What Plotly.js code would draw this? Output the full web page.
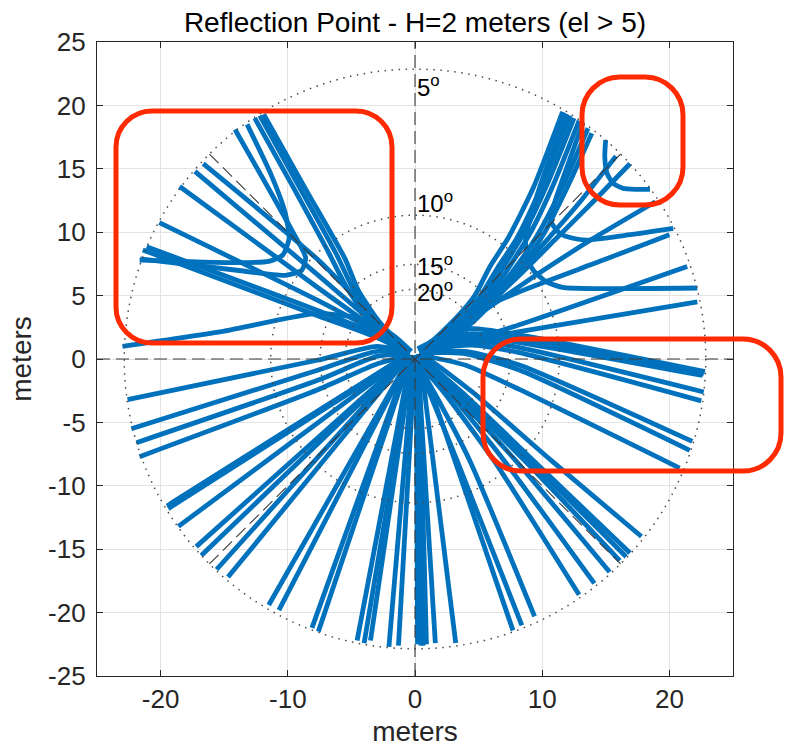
<!DOCTYPE html>
<html>
<head>
<meta charset="utf-8">
<script src="https://cdn.plot.ly/plotly-3.0.1.min.js"></script>
<style>
  html, body { margin: 0; padding: 0; background: #ffffff; }
  #chart { width: 789px; height: 747px; }
</style>
</head>
<body>
<div id="chart"></div>
<script>
// Antenna height above the reflecting surface (m) and the elevation rings drawn
const antennaHeight = 2;
const elevationRings = [5, 10, 15, 20];
const ringLabelY = [21.5, 12.4, 7.4, 5.4];

const xTicks = [-20, -10, 0, 10, 20];
const yTicks = [-25, -20, -15, -10, -5, 0, 5, 10, 15, 20, 25];

// Reflection-point tracks, [x, y] in meters (east, north), one polyline per pass segment
const tracksNE = [
  [[11.6, 19.5], [9.3, 13.5], [7.3, 9.5], [5.9, 7.3], [4.7, 5.0], [3.2, 3.2], [1.3, 1.4], [0.2, 0.8]],
  [[12.2, 19.2], [9.9, 13.5], [8.0, 9.5], [6.5, 7.2], [5.1, 4.9], [3.5, 3.0], [1.5, 1.2], [0.3, 0.6]],
  [[12.5, 19.0], [10.4, 13.8], [8.6, 10.0], [7.1, 7.5], [5.5, 5.0], [3.8, 2.9], [1.7, 1.1], [0.4, 0.5]],
  [[12.9, 18.8], [10.9, 13.8], [9.1, 10.0], [7.5, 7.4], [5.8, 4.9], [3.9, 2.8], [1.8, 1.0], [0.4, 0.4]],
  [[13.6, 18.2], [11.6, 13.6], [9.7, 9.9], [7.9, 7.2], [6.0, 4.8], [4.0, 2.7], [1.8, 0.9], [0.5, 0.4]],
  [[13.9, 17.8], [12.0, 13.6], [10.2, 10.0], [8.4, 7.3], [6.3, 4.7], [4.2, 2.6], [1.9, 0.9], [0.5, 0.3]],
  [[15.8, 16.0], [12.9, 12.3], [10.3, 9.3], [7.6, 6.3], [5.0, 3.8], [2.8, 2.0], [0.9, 0.6]],
  [[16.9, 15.4], [13.9, 12.3], [11.0, 9.4], [8.2, 6.6], [5.4, 4.0], [3.0, 2.0], [1.0, 0.5]],
  [[18.9, 12.4], [14.0, 9.5], [9.5, 6.6], [6.0, 4.2], [3.0, 2.2], [1.0, 0.8]],
  [[20.0, 9.8], [14.8, 7.8], [8.2, 5.3], [4.5, 3.6], [2.2, 2.0], [0.8, 0.8]],
  [[21.4, 7.3], [8.2, 2.7], [2.5, 0.9], [0.8, 0.3]],
  [[22.2, 4.5], [8.2, 2.15], [2.0, 1.0], [0.5, 0.5]]
];

const hooksNE = [
  [[14.99, 17.27], [14.92, 15.95], [15.10, 14.64], [15.57, 13.86], [16.36, 13.46], [17.42, 13.38], [18.47, 13.38]],
  [[13.2, 18.6], [11.9, 15.0], [11.0, 12.4], [10.71, 10.83], [11.37, 9.91], [12.42, 9.52], [13.47, 9.38], [16.9, 9.8], [20.3, 10.3]],
  [[11.9, 19.35], [10.3, 15.0], [9.2, 11.6], [8.7, 9.4], [8.8, 8.0], [9.3, 7.0], [10.3, 6.1], [11.6, 5.65], [14.5, 5.55], [22.2, 5.6]]
];

const tracksE = [
  [[22.8, -1.0], [8.2, 1.9], [4.5, 2.4], [2.2, 1.8], [0.6, 0.7]],
  [[22.7, -1.2], [8.2, 1.6], [4.5, 2.0], [2.2, 1.5], [0.6, 0.6]],
  [[22.6, -1.3], [8.2, 1.3], [4.5, 1.7], [2.2, 1.3], [0.6, 0.5]],
  [[22.7, -2.6], [8.2, 0.9], [4.5, 1.4], [2.0, 1.1], [0.5, 0.4]],
  [[22.5, -3.3], [8.2, 0.5], [4.5, 1.1], [2.0, 0.9], [0.5, 0.3]],
  [[21.8, -6.5], [8.2, -0.47], [4.0, 0.6], [1.5, 0.6], [0.4, 0.3]],
  [[21.6, -7.2], [8.2, -0.87], [4.0, 0.4], [1.5, 0.5], [0.4, 0.3]],
  [[20.8, -8.6], [8.2, -2.4], [4.0, -0.5], [1.5, 0.1], [0.3, 0.3]]
];

const tracksSE = [
  [[17.8, -14.0], [10.7, -8.0], [4.5, -2.6], [1.2, -0.1], [0.3, 0.4]],
  [[16.9, -15.3], [9.3, -8.0], [4.0, -2.9], [1.0, -0.3], [0.3, 0.3]],
  [[16.6, -15.6], [9.0, -8.0], [3.8, -3.0], [0.9, -0.4], [0.2, 0.3]],
  [[16.1, -15.9], [8.6, -8.0], [3.6, -3.0], [0.8, -0.4], [0.2, 0.3]],
  [[15.3, -16.8], [7.9, -8.0], [3.2, -2.9], [0.7, -0.5], [0.1, 0.3]],
  [[14.1, -17.7], [7.0, -8.0], [2.8, -2.8], [0.6, -0.5], [0.1, 0.3]],
  [[12.9, -18.6], [6.2, -8.0], [2.4, -2.8], [0.5, -0.5], [0.0, 0.3]],
  [[9.4, -20.3], [4.3, -8.0], [1.6, -2.8], [0.3, -0.5], [0.0, 0.3]],
  [[8.4, -21.0], [3.3, -8.0], [1.2, -2.8], [0.3, -0.5], [0.0, 0.3]]
];

const tracksS = [
  [[7.7, -21.4], [0.3, 0.3]],
  [[3.2, -22.4], [0.4, 0.2]],
  [[1.6, -22.4], [0.2, 0.3]],
  [[0.9, -22.5], [0.3, 0.2]],
  [[0.65, -22.6], [0.1, 0.3]],
  [[0.45, -22.6], [0.3, 0.2]],
  [[0.2, -22.5], [0.1, 0.3]],
  [[-1.3, -22.6], [0.0, 0.3]],
  [[-2.05, -22.7], [-0.1, 0.3]],
  [[-3.5, -22.2], [-0.2, 0.3]],
  [[-4.0, -22.4], [-0.2, 0.2]],
  [[-4.55, -22.2], [-0.3, 0.3]],
  [[-7.6, -21.5], [-0.3, 0.3]],
  [[-8.1, -21.2], [-0.4, 0.3]]
];

const tracksSW = [
  [[-10.7, -19.8], [-0.3, 0.3]],
  [[-11.5, -19.4], [-0.3, 0.3]],
  [[-14.7, -17.2], [-0.4, 0.3]],
  [[-15.6, -16.6], [-0.4, 0.3]],
  [[-16.8, -15.5], [-0.4, 0.3]],
  [[-17.2, -14.8], [-0.4, 0.3]],
  [[-18.6, -13.2], [-0.5, 0.3]],
  [[-19.4, -11.8], [-0.5, 0.3]],
  [[-19.5, -11.6], [-0.5, 0.4]],
  [[-19.2, -11.4], [-0.5, 0.4]]
];

const tracksW = [
  [[-23.0, 1.0], [-15.0, 2.2], [-7.6, 3.6], [-3.5, 3.0], [-1.5, 1.7], [-0.3, 0.6]],
  [[-22.6, -3.2], [-7.6, -0.08], [-3.0, 1.0], [-0.4, 0.5]],
  [[-22.3, -5.5], [-7.6, -0.87], [-3.0, 0.6], [-0.4, 0.4]],
  [[-21.9, -6.6], [-7.6, -1.66], [-3.0, 0.2], [-0.4, 0.4]],
  [[-21.65, -7.7], [-7.6, -2.4], [-3.0, -0.4], [-0.4, 0.3]]
];

const tracksNW = [
  [[-21.1, 8.85], [-7.6, 3.8], [-3.0, 1.9], [-0.6, 0.6]],
  [[-21.4, 8.6], [-7.6, 3.4], [-3.0, 1.7], [-0.6, 0.5]],
  [[-20.1, 10.75], [-7.6, 4.6], [-3.0, 2.1], [-0.6, 0.6]],
  [[-18.5, 13.6], [-7.6, 5.6], [-3.0, 2.3], [-0.6, 0.6]],
  [[-17.3, 14.8], [-7.6, 6.6], [-3.0, 2.6], [-0.6, 0.6]],
  [[-16.65, 15.4], [-7.6, 7.8], [-3.5, 3.6], [-0.8, 0.8]],
  [[-11.9, 19.3], [-8.6, 13.4], [-5.5, 7.9], [-4.5, 5.5], [-3.16, 3.4], [-1.84, 1.84], [-0.3, 0.6]],
  [[-12.2, 19.2], [-9.0, 13.4], [-6.2, 8.3], [-4.9, 5.6], [-3.5, 3.4], [-2.0, 1.7], [-0.4, 0.5]],
  [[-12.6, 19.0], [-9.6, 13.6], [-6.9, 8.6], [-5.4, 5.7], [-3.8, 3.3], [-2.1, 1.6], [-0.5, 0.5]]
];

const hooksNW = [
  [[-13.2, 18.5], [-11.3, 14.5], [-10.2, 11.5], [-9.9, 9.5], [-10.4, 8.2], [-11.5, 7.7], [-14.0, 7.6], [-21.65, 7.8]],
  [[-14.15, 18.1], [-11.6, 13.6], [-9.6, 10.0], [-8.6, 8.0], [-8.9, 7.0], [-10.2, 6.6], [-14.0, 7.0], [-21.6, 7.9]]
];

// ---- build the track trace (gaps separate the passes) ----
const allTracks = [].concat(tracksNE, hooksNE, tracksE, tracksSE, tracksS, tracksSW, tracksW, tracksNW, hooksNW);
const trackX = [], trackY = [];
allTracks.forEach(function (t) {
  t.forEach(function (p) { trackX.push(p[0]); trackY.push(p[1]); });
  trackX.push(null); trackY.push(null);
});

const FONT = 'Liberation Sans, Arial, Helvetica, sans-serif';
const AXIS_COLOR = '#262626';
const TRACK_BLUE = '#0072bd';

const traces = [{
  type: 'scatter',
  mode: 'lines',
  x: trackX,
  y: trackY,
  connectgaps: false,
  line: { color: TRACK_BLUE, width: 4.8, shape: 'spline', smoothing: 0.6 },
  hoverinfo: 'skip',
  showlegend: false
}];

// ---- reference geometry: elevation rings and azimuth guide lines ----
const shapes = [];
elevationRings.forEach(function (el) {
  const r = antennaHeight / Math.tan(el * Math.PI / 180);
  shapes.push({
    type: 'circle', xref: 'x', yref: 'y', layer: 'above',
    x0: -r, x1: r, y0: -r, y1: r,
    line: { color: '#4a4a4a', width: 1.5, dash: '1.5px,5.5px' }
  });
});
const outerR = antennaHeight / Math.tan(elevationRings[0] * Math.PI / 180);
const diag = outerR / Math.SQRT2;
const guideDash = { color: '#3a3a3a', width: 1.1, dash: '13px,6px' };
shapes.push({ type: 'line', xref: 'x', yref: 'y', layer: 'above', x0: 0, x1: 0, y0: -25, y1: 25, line: guideDash });
shapes.push({ type: 'line', xref: 'x', yref: 'y', layer: 'above', x0: -25, x1: 25, y0: 0, y1: 0, line: guideDash });
shapes.push({ type: 'line', xref: 'x', yref: 'y', layer: 'above', x0: -diag, x1: diag, y0: -diag, y1: diag, line: guideDash });
shapes.push({ type: 'line', xref: 'x', yref: 'y', layer: 'above', x0: -diag, x1: diag, y0: diag, y1: -diag, line: guideDash });

// ---- highlight callouts (rounded boxes, figure pixel coordinates) ----
const M = { l: 97, r: 56, t: 42, b: 71 };
const PW = 789 - M.l - M.r, PH = 747 - M.t - M.b;
function px(X) { return ((X - M.l) / PW).toFixed(5); }
function py(Y) { return ((M.t + PH - Y) / PH).toFixed(5); }
function roundedBox(X0, Y0, X1, Y1, r) {
  const k = 0.5523 * r;
  return 'M ' + px(X0 + r) + ',' + py(Y0) +
    ' L ' + px(X1 - r) + ',' + py(Y0) +
    ' C ' + px(X1 - r + k) + ',' + py(Y0) + ' ' + px(X1) + ',' + py(Y0 + r - k) + ' ' + px(X1) + ',' + py(Y0 + r) +
    ' L ' + px(X1) + ',' + py(Y1 - r) +
    ' C ' + px(X1) + ',' + py(Y1 - r + k) + ' ' + px(X1 - r + k) + ',' + py(Y1) + ' ' + px(X1 - r) + ',' + py(Y1) +
    ' L ' + px(X0 + r) + ',' + py(Y1) +
    ' C ' + px(X0 + r - k) + ',' + py(Y1) + ' ' + px(X0) + ',' + py(Y1 - r + k) + ' ' + px(X0) + ',' + py(Y1 - r) +
    ' L ' + px(X0) + ',' + py(Y0 + r) +
    ' C ' + px(X0) + ',' + py(Y0 + r - k) + ' ' + px(X0 + r - k) + ',' + py(Y0) + ' ' + px(X0 + r) + ',' + py(Y0) + ' Z';
}
const calloutStyle = { color: '#ff2a00', width: 5 };
[[116, 111, 392, 343, 36], [582, 77, 683, 205, 38], [483, 339, 781, 471, 38]].forEach(function (b) {
  shapes.push({
    type: 'path', xref: 'paper', yref: 'paper', layer: 'above',
    path: roundedBox(b[0], b[1], b[2], b[3], b[4]),
    line: calloutStyle, fillcolor: 'rgba(0,0,0,0)'
  });
});

// ---- ring labels ----
const annotations = elevationRings.map(function (el, i) {
  return {
    x: 0, y: ringLabelY[i], xref: 'x', yref: 'y',
    xanchor: 'left', yanchor: 'middle', showarrow: false,
    text: el + '<sup>o</sup>',
    font: { family: FONT, size: 24, color: '#000000' }
  };
});

const axisCommon = {
  showgrid: true, gridcolor: '#e3e3e3', gridwidth: 1,
  zeroline: false,
  showline: true, mirror: 'ticks', linecolor: AXIS_COLOR, linewidth: 1.2,
  ticks: 'inside', ticklen: 6, tickcolor: AXIS_COLOR, tickwidth: 1,
  tickfont: { family: FONT, size: 26, color: '#262626' },
  tickmode: 'array', fixedrange: true, automargin: false
};

const layout = {
  width: 789, height: 747,
  margin: M,
  paper_bgcolor: '#ffffff', plot_bgcolor: '#ffffff',
  showlegend: false,
  title: {
    text: 'Reflection Point - H=2 meters (el > 5)',
    font: { family: FONT, size: 28, color: '#000000' },
    xref: 'paper', x: 0.5, xanchor: 'center',
    yref: 'container', y: 1 - 22 / 747, yanchor: 'middle'
  },
  xaxis: Object.assign({}, axisCommon, {
    range: [-25, 25],
    tickvals: xTicks, ticktext: xTicks.map(String),
    ticklabelstandoff: 0,
    title: { text: 'meters', font: { family: FONT, size: 28, color: '#262626' }, standoff: 12 }
  }),
  yaxis: Object.assign({}, axisCommon, {
    range: [-25, 25],
    tickvals: yTicks, ticktext: yTicks.map(String),
    ticklabelstandoff: 5,
    title: { text: 'meters', font: { family: FONT, size: 28, color: '#262626' }, standoff: 8 }
  }),
  shapes: shapes,
  annotations: annotations
};

Plotly.newPlot('chart', traces, layout, { staticPlot: true, displayModeBar: false });
</script>
</body>
</html>
